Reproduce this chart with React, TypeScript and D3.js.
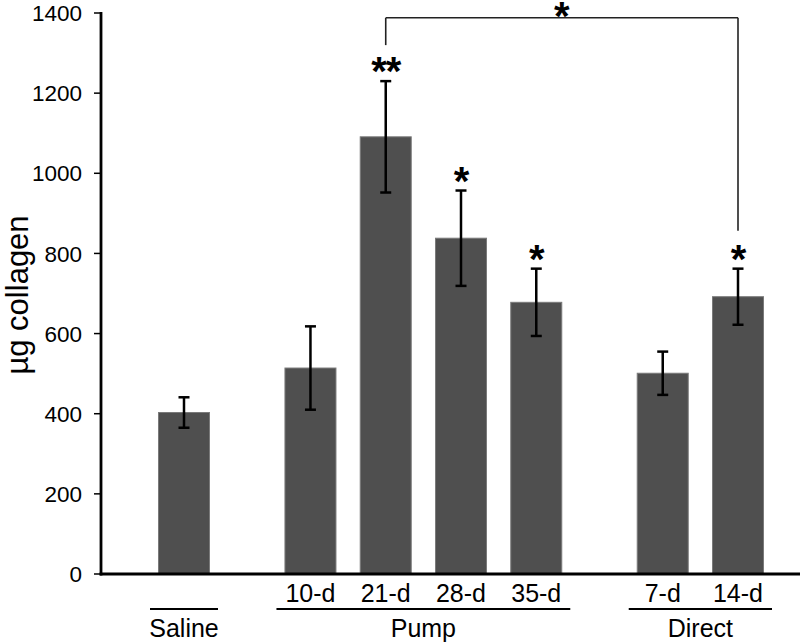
import React from "react";
import * as d3 from "d3";

const categories = ["Saline", "10-d", "21-d", "28-d", "35-d", "7-d", "14-d"];
const categoryLabels = ["", "10-d", "21-d", "28-d", "35-d", "7-d", "14-d"];
const groupOf = ["Saline", "Pump", "Pump", "Pump", "Pump", "Direct", "Direct"];
const groupNames = ["Saline", "Pump", "Direct"];
const means = [403, 514, 1091, 838, 678, 501, 692];
const errors = [38, 104, 139, 119, 84, 54, 70];
const stars = ["", "", "**", "*", "*", "", "*"];
const yTicks = [0, 200, 400, 600, 800, 1000, 1200, 1400];
const bracketFrom = "21-d";
const bracketTo = "14-d";
const bracketValue = 1388;
const bracketStar = "*";

const W = 800;
const H = 644;
const FONT = "Arial, 'Liberation Sans', Helvetica, sans-serif";
const GROUP_GAP = 0.68;

export default function App() {
  const slots = categories.map((_, i) => i + groupNames.indexOf(groupOf[i]) * GROUP_GAP);
  const x = d3.scaleLinear().domain([0, d3.max(slots) as number]).range([184, 738]);
  const y = d3.scaleLinear().domain([0, 1400]).range([574, 13]);
  const barW = 51;
  const axisX = 101;
  const y0 = y(0);

  const iFrom = categories.indexOf(bracketFrom);
  const iTo = categories.indexOf(bracketTo);
  const by = y(bracketValue);

  const groupExtents = groupNames.map((g) => {
    const idx = categories.map((_, i) => i).filter((i) => groupOf[i] === g);
    const xs = idx.map((i) => x(slots[i]));
    return { g, x1: (d3.min(xs) as number) - 34, x2: (d3.max(xs) as number) + 34 };
  });

  return (
    <svg
      width={W}
      height={H}
      style={{ position: "absolute", left: 0, top: 0, background: "#fff" }}
      fontFamily={FONT}
    >
      {/* bars */}
      {categories.map((c, i) => (
        <rect
          key={c}
          x={x(slots[i]) - barW / 2}
          y={y(means[i])}
          width={barW}
          height={y0 - y(means[i])}
          fill="#4f4f4f"
          stroke="#7a7a7a"
          strokeWidth={1}
        />
      ))}
      {/* error bars */}
      {categories.map((c, i) => {
        const cx = x(slots[i]);
        const t = y(means[i] + errors[i]);
        const b = y(means[i] - errors[i]);
        return (
          <g key={"e" + c} stroke="#000" strokeWidth={2.5}>
            <line x1={cx} x2={cx} y1={t} y2={b} />
            <line x1={cx - 5.5} x2={cx + 5.5} y1={t} y2={t} />
            <line x1={cx - 5.5} x2={cx + 5.5} y1={b} y2={b} />
          </g>
        );
      })}
      {/* stars */}
      {categories.map((c, i) =>
        stars[i] ? (
          <text
            key={"s" + c}
            x={x(slots[i])}
            y={y(means[i] + errors[i]) + 4}
            textAnchor="middle"
            fontSize={40}
            fontWeight="bold"
            letterSpacing={-1}
          >
            {stars[i]}
          </text>
        ) : null
      )}
      {/* bracket */}
      <g stroke="#222" strokeWidth={1.6} fill="none">
        <line x1={x(slots[iFrom])} x2={x(slots[iFrom])} y1={by} y2={y(means[iFrom] + errors[iFrom]) - 36} />
        <line x1={x(slots[iTo])} x2={x(slots[iTo])} y1={by} y2={y(means[iTo] + errors[iTo]) - 38} />
        <line x1={x(slots[iFrom])} x2={x(slots[iTo])} y1={by} y2={by} />
      </g>
      <text
        x={(x(slots[iFrom]) + x(slots[iTo])) / 2}
        y={by + 12}
        textAnchor="middle"
        fontSize={40}
        fontWeight="bold"
      >
        {bracketStar}
      </text>
      {/* y axis */}
      <line x1={axisX} x2={axisX} y1={y(1400) - 1} y2={y0 + 1.5} stroke="#000" strokeWidth={2.8} />
      {yTicks.map((t) => (
        <g key={"t" + t}>
          <line x1={axisX - 7} x2={axisX} y1={y(t)} y2={y(t)} stroke="#000" strokeWidth={1.5} />
          <text x={82} y={y(t)} dy="0.36em" textAnchor="end" fontSize={22.5}>
            {t}
          </text>
        </g>
      ))}
      {/* x axis */}
      <line x1={axisX - 1.4} x2={W} y1={y0} y2={y0} stroke="#000" strokeWidth={2.8} />
      {/* category labels */}
      {categories.map((c, i) =>
        categoryLabels[i] ? (
          <text key={"c" + c} x={x(slots[i])} y={602} textAnchor="middle" fontSize={25}>
            {categoryLabels[i]}
          </text>
        ) : null
      )}
      {/* group lines and labels */}
      {groupExtents.map((ge) => (
        <g key={"g" + ge.g}>
          <line x1={ge.x1} x2={ge.x2} y1={609} y2={609} stroke="#000" strokeWidth={2} />
          <text x={(ge.x1 + ge.x2) / 2} y={637} textAnchor="middle" fontSize={25}>
            {ge.g}
          </text>
        </g>
      ))}
      {/* y label */}
      <text
        transform={`translate(28, 295) rotate(-90)`}
        textAnchor="middle"
        fontSize={31}
      >
        µg collagen
      </text>
    </svg>
  );
}
